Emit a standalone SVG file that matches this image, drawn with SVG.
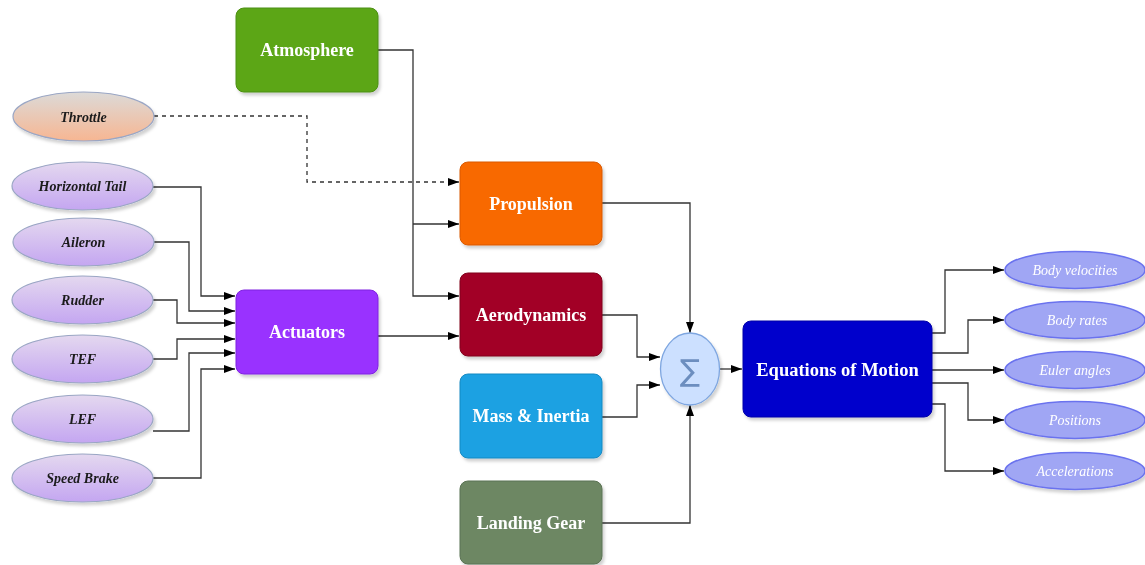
<svg xmlns="http://www.w3.org/2000/svg" width="1145" height="565" viewBox="0 0 1145 565">
<defs>
<style>
.box{stroke-width:1;}
.bt{font-family:"Liberation Serif",serif;font-weight:bold;font-size:18px;fill:#fff;text-anchor:middle;}
.lt{font-family:"Liberation Serif",serif;font-weight:bold;font-style:italic;font-size:14px;fill:#1a1a1a;text-anchor:middle;}
.rt{font-family:"Liberation Serif",serif;font-style:italic;font-size:14px;fill:#fff;text-anchor:middle;}
.ln{fill:none;stroke:#333;stroke-width:1.3;}
.dash{stroke-dasharray:4 4;}
.le{fill:url(#lav);stroke:#9aa6c4;stroke-width:1.2;}
.re{fill:#a0a6f4;stroke:#6a72ee;stroke-width:1.5;}
</style>
<linearGradient id="lav" x1="0" y1="0" x2="0" y2="1"><stop offset="0" stop-color="#e4d8ef"/><stop offset="1" stop-color="#c4a6f1"/></linearGradient>
<linearGradient id="thr" x1="0" y1="0" x2="0" y2="1"><stop offset="0" stop-color="#dcdad8"/><stop offset="1" stop-color="#f7b692"/></linearGradient>
<filter id="sh" x="-10%" y="-10%" width="130%" height="130%"><feDropShadow dx="2" dy="3" stdDeviation="1.5" flood-color="#000" flood-opacity="0.18"/></filter>
<marker id="ar" markerUnits="userSpaceOnUse" markerWidth="12" markerHeight="10" refX="11" refY="4" orient="auto"><path d="M0,0 L11,4 L0,8 z" fill="#000"/></marker>
</defs>
<rect width="1145" height="565" fill="#fff"/>
<g id="connectors">
<path class="ln dash" d="M154,116 H307 V182 H459" marker-end="url(#ar)"/>
<path class="ln" d="M378,50 H413 V296 H459" marker-end="url(#ar)"/>
<path class="ln" d="M413,224 H459" marker-end="url(#ar)"/>
<path class="ln" d="M153,187 H201 V296 H235" marker-end="url(#ar)"/>
<path class="ln" d="M154,242 H189 V311 H235" marker-end="url(#ar)"/>
<path class="ln" d="M153,300 H177 V323 H235" marker-end="url(#ar)"/>
<path class="ln" d="M153,359 H177 V339 H235" marker-end="url(#ar)"/>
<path class="ln" d="M153,431 H189 V353 H235" marker-end="url(#ar)"/>
<path class="ln" d="M153,478 H201 V369 H235" marker-end="url(#ar)"/>
<path class="ln" d="M378,336 H459" marker-end="url(#ar)"/>
<path class="ln" d="M602,203 H690 V333" marker-end="url(#ar)"/>
<path class="ln" d="M602,315 H637 V357 H660" marker-end="url(#ar)"/>
<path class="ln" d="M602,417 H637 V385 H660" marker-end="url(#ar)"/>
<path class="ln" d="M602,523 H690 V405" marker-end="url(#ar)"/>
<path class="ln" d="M720,369 H742" marker-end="url(#ar)"/>
<path class="ln" d="M932,333 H945 V270 H1004" marker-end="url(#ar)"/>
<path class="ln" d="M932,353 H968 V320 H1004" marker-end="url(#ar)"/>
<path class="ln" d="M932,370 H1004" marker-end="url(#ar)"/>
<path class="ln" d="M932,383 H968 V420 H1004" marker-end="url(#ar)"/>
<path class="ln" d="M932,404 H945 V471 H1004" marker-end="url(#ar)"/>
</g>
<g id="atmosphere" filter="url(#sh)"><rect x="236" y="8" width="142" height="84" rx="8" fill="#5ba618" stroke="#4b8f10"/><text class="bt" x="307" y="56">Atmosphere</text></g>
<g id="propulsion" filter="url(#sh)"><rect x="460" y="162" width="142" height="83" rx="8" fill="#f86900" stroke="#d95a00"/><text class="bt" x="531" y="210">Propulsion</text></g>
<g id="aerodynamics" filter="url(#sh)"><rect x="460" y="273" width="142" height="83" rx="8" fill="#a20025" stroke="#80001d"/><text class="bt" x="531" y="321">Aerodynamics</text></g>
<g id="mass-inertia" filter="url(#sh)"><rect x="460" y="374" width="142" height="84" rx="8" fill="#1ba1e2" stroke="#1589c2"/><text class="bt" x="531" y="422">Mass &amp; Inertia</text></g>
<g id="landing-gear" filter="url(#sh)"><rect x="460" y="481" width="142" height="83" rx="8" fill="#6d8764" stroke="#5a7252"/><text class="bt" x="531" y="529">Landing Gear</text></g>
<g id="actuators" filter="url(#sh)"><rect x="236" y="290" width="142" height="84" rx="8" fill="#9933ff" stroke="#7f22e0"/><text class="bt" x="307" y="338">Actuators</text></g>
<g id="sum" filter="url(#sh)"><ellipse cx="690" cy="369" rx="29.5" ry="36" fill="#cce0ff" stroke="#7ea6e0" stroke-width="1.3"/><text x="690" y="381" font-family="DejaVu Sans,sans-serif" font-size="30" fill="#6c8ebf" text-anchor="middle">∑</text></g>
<g id="eom" filter="url(#sh)"><rect x="743" y="321" width="189" height="96" rx="8" fill="#0000cc" stroke="#0000a8"/><text class="bt" x="837.5" y="376" style="font-size:18.5px">Equations of Motion</text></g>
<g id="throttle" filter="url(#sh)"><ellipse cx="83.5" cy="116.5" rx="70.5" ry="24.5" fill="url(#thr)" stroke="#9aa6c4" stroke-width="1.2"/><text class="lt" x="83.5" y="121.5">Throttle</text></g>
<g id="horizontal-tail" filter="url(#sh)"><ellipse class="le" cx="82.5" cy="186" rx="70.5" ry="24"/><text class="lt" x="82.5" y="191">Horizontal Tail</text></g>
<g id="aileron" filter="url(#sh)"><ellipse class="le" cx="83.5" cy="242" rx="70.5" ry="24"/><text class="lt" x="83.5" y="247">Aileron</text></g>
<g id="rudder" filter="url(#sh)"><ellipse class="le" cx="82.5" cy="300" rx="70.5" ry="24"/><text class="lt" x="82.5" y="305">Rudder</text></g>
<g id="tef" filter="url(#sh)"><ellipse class="le" cx="82.5" cy="359" rx="70.5" ry="24"/><text class="lt" x="82.5" y="364">TEF</text></g>
<g id="lef" filter="url(#sh)"><ellipse class="le" cx="82.5" cy="419" rx="70.5" ry="24"/><text class="lt" x="82.5" y="424">LEF</text></g>
<g id="speed-brake" filter="url(#sh)"><ellipse class="le" cx="82.5" cy="478" rx="70.5" ry="24"/><text class="lt" x="82.5" y="483">Speed Brake</text></g>
<g id="body-velocities" filter="url(#sh)"><ellipse class="re" cx="1075" cy="270" rx="70" ry="18.5"/><text class="rt" x="1075" y="275">Body velocities</text></g>
<g id="body-rates" filter="url(#sh)"><ellipse class="re" cx="1075" cy="320" rx="70" ry="18.5"/><text class="rt" x="1077" y="325">Body rates</text></g>
<g id="euler-angles" filter="url(#sh)"><ellipse class="re" cx="1075" cy="370" rx="70" ry="18.5"/><text class="rt" x="1075" y="375">Euler angles</text></g>
<g id="positions" filter="url(#sh)"><ellipse class="re" cx="1075" cy="420" rx="70" ry="18.5"/><text class="rt" x="1075" y="425">Positions</text></g>
<g id="accelerations" filter="url(#sh)"><ellipse class="re" cx="1075" cy="471" rx="70" ry="18.5"/><text class="rt" x="1075" y="476">Accelerations</text></g>
</svg>
